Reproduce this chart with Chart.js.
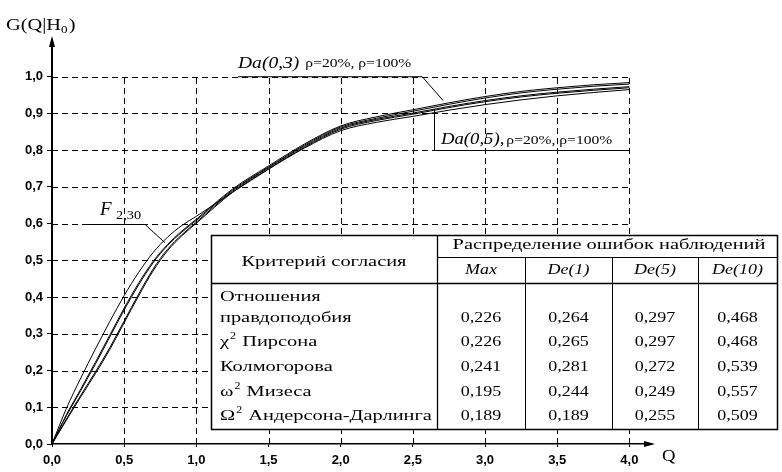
<!DOCTYPE html>
<html>
<head>
<meta charset="utf-8">
<script src="https://cdn.jsdelivr.net/npm/chart.js@4"></script>
<style>
  html, body { margin: 0; padding: 0; background: #fff; }
  canvas { display: block; }
</style>
</head>
<body>
<canvas id="chart" width="782" height="472"></canvas>
<script>
// Argument Q and the distribution curves G(Q|H0)
const qValues = [0, 0.1, 0.2, 0.3, 0.4, 0.5, 0.6, 0.7, 0.8, 0.9, 1.0, 1.25, 1.5, 1.75, 2.0, 2.25, 2.5, 2.75, 3.0, 3.25, 3.5, 3.75, 4.0];
const gF230       = [0, 0.097, 0.180, 0.258, 0.333, 0.404, 0.467, 0.521, 0.563, 0.595, 0.620, 0.685, 0.748, 0.806, 0.853, 0.876, 0.892, 0.909, 0.924, 0.937, 0.948, 0.957, 0.965];
const gDa03Rho20  = [0, 0.080, 0.150, 0.222, 0.296, 0.370, 0.438, 0.497, 0.543, 0.580, 0.612, 0.694, 0.757, 0.817, 0.866, 0.891, 0.910, 0.929, 0.946, 0.960, 0.970, 0.978, 0.984];
const gDa03Rho100 = [0, 0.077, 0.146, 0.217, 0.291, 0.365, 0.433, 0.493, 0.540, 0.577, 0.609, 0.691, 0.754, 0.814, 0.863, 0.887, 0.906, 0.925, 0.942, 0.956, 0.966, 0.974, 0.980];
const gDa05Rho20  = [0, 0.068, 0.133, 0.196, 0.262, 0.335, 0.408, 0.476, 0.530, 0.570, 0.604, 0.688, 0.752, 0.811, 0.860, 0.884, 0.901, 0.919, 0.935, 0.948, 0.958, 0.966, 0.973];
const gDa05Rho100 = [0, 0.065, 0.129, 0.191, 0.257, 0.330, 0.403, 0.471, 0.526, 0.567, 0.601, 0.685, 0.749, 0.808, 0.857, 0.881, 0.898, 0.916, 0.932, 0.945, 0.955, 0.963, 0.970];

// Axis ticks
const xTickValues = [0, 0.5, 1.0, 1.5, 2.0, 2.5, 3.0, 3.5, 4.0];
const xTickLabels = ['0,0', '0,5', '1,0', '1,5', '2,0', '2,5', '3,0', '3,5', '4,0'];
const yTickValues = [0, 0.1, 0.2, 0.3, 0.4, 0.5, 0.6, 0.7, 0.8, 0.9, 1.0];
const yTickLabels = ['0,0', '0,1', '0,2', '0,3', '0,4', '0,5', '0,6', '0,7', '0,8', '0,9', '1,0'];

// Table: goodness-of-fit criteria vs. observation error distributions
const criteriaLines = [
  ['Отношения'],
  ['правдоподобия'],
  ['χ', '2', ' Пирсона'],
  ['Колмогорова'],
  ['ω', '2', ' Мизеса'],
  ['Ω', '2', ' Андерсона-Дарлинга']
];
const errorDistributions = ['Max', 'De(1)', 'De(5)', 'De(10)'];
const statMax  = [0.226, 0.226, 0.241, 0.195, 0.189];
const statDe1  = [0.264, 0.265, 0.281, 0.244, 0.189];
const statDe5  = [0.297, 0.297, 0.272, 0.249, 0.255];
const statDe10 = [0.468, 0.468, 0.539, 0.557, 0.509];

const SERIF = '"Liberation Serif", "Times New Roman", serif';
const SANS = '"Liberation Sans", Arial, sans-serif';
const TABLE_SX = 1.36;

function series(label, values) {
  return {
    label,
    data: qValues.map((q, i) => ({ x: q, y: values[i] })),
    borderColor: '#000',
    borderWidth: 1,
    pointRadius: 0,
    fill: false,
    cubicInterpolationMode: 'monotone'
  };
}

function fmt(v) { return v.toFixed(3).replace('.', ','); }

// Dashed grid bounded by Q in [0, 4] and G in [0, 1]
const dashedGrid = {
  id: 'dashedGrid',
  beforeDatasetsDraw(chart) {
    const { ctx, scales: { x, y } } = chart;
    ctx.save();
    ctx.strokeStyle = '#000';
    ctx.lineWidth = 1;
    ctx.setLineDash([6, 4]);
    const x0 = x.getPixelForValue(0), x1 = x.getPixelForValue(4);
    const y0 = y.getPixelForValue(0), y1 = y.getPixelForValue(1);
    xTickValues.slice(1).forEach(v => {
      const px = Math.round(x.getPixelForValue(v)) + 0.5;
      ctx.beginPath(); ctx.moveTo(px, y0); ctx.lineTo(px, y1); ctx.stroke();
    });
    yTickValues.slice(1).forEach(v => {
      const py = Math.round(y.getPixelForValue(v)) + 0.5;
      ctx.beginPath(); ctx.moveTo(x0, py); ctx.lineTo(x1, py); ctx.stroke();
    });
    ctx.restore();
  }
};

// Text with optional horizontal stretch; returns drawn width
function text(ctx, str, px, py, font, align, sx) {
  sx = sx || 1;
  ctx.font = font;
  const w = ctx.measureText(str).width * sx;
  const left = align === 'center' ? px - w / 2 : align === 'right' ? px - w : px;
  ctx.save();
  ctx.translate(left, py);
  ctx.scale(sx, 1);
  ctx.textAlign = 'left';
  ctx.fillText(str, 0, 0);
  ctx.restore();
  return w;
}

function line(ctx, pts, w) {
  ctx.lineWidth = w || 1;
  ctx.beginPath();
  ctx.moveTo(pts[0][0], pts[0][1]);
  for (let i = 1; i < pts.length; i++) ctx.lineTo(pts[i][0], pts[i][1]);
  ctx.stroke();
}

const decorations = {
  id: 'decorations',
  afterDatasetsDraw(chart) {
    const { ctx, chartArea: ca, scales: { x, y } } = chart;
    ctx.save();
    ctx.fillStyle = '#000';
    ctx.strokeStyle = '#000';
    ctx.textBaseline = 'alphabetic';
    ctx.setLineDash([]);

    // axis arrows
    const ax = x.getPixelForValue(0), ay = y.getPixelForValue(0);
    ctx.beginPath();
    ctx.moveTo(ax, ca.top - 4); ctx.lineTo(ax - 3, ca.top + 7); ctx.lineTo(ax + 3, ca.top + 7); ctx.closePath(); ctx.fill();
    ctx.beginPath();
    ctx.moveTo(ca.right + 4, ay); ctx.lineTo(ca.right - 7, ay - 3); ctx.lineTo(ca.right - 7, ay + 3); ctx.closePath(); ctx.fill();

    // axis titles
    let w = text(ctx, 'G(Q|H', 6, 30, '17px ' + SERIF, 'left', 1.2);
    w += text(ctx, '0', 6 + w, 33, '11px ' + SERIF, 'left', 1.2);
    text(ctx, ')', 6 + w + 1, 30, '17px ' + SERIF, 'left', 1.2);
    text(ctx, 'Q', 662, 461, '17px ' + SERIF, 'left', 1.1);

    // Da(0,3) callout
    const u1 = y.getPixelForValue(1.0);
    line(ctx, [[x.getPixelForValue(1.29), u1], [x.getPixelForValue(2.565), u1], [x.getPixelForValue(2.71), y.getPixelForValue(0.935)]]);
    w = text(ctx, 'Da(0,3)', 238, 68, 'italic 17px ' + SERIF, 'left', 1.15);
    text(ctx, 'ρ=20%, ρ=100%', 238 + w + 6, 67, '12px ' + SERIF, 'left', 1.3);

    // Da(0,5) callout
    const vx = Math.round(x.getPixelForValue(2.648)) + 0.5;
    const hy = Math.round(y.getPixelForValue(0.801)) + 0.5;
    line(ctx, [[vx, y.getPixelForValue(0.912)], [vx, hy], [x.getPixelForValue(4.0), hy]]);
    w = text(ctx, 'Da(0,5),', 441, 144, 'italic 17px ' + SERIF, 'left', 1.1);
    text(ctx, 'ρ=20%, ρ=100%', 441 + w + 2, 144, '12px ' + SERIF, 'left', 1.3);

    // F2,30 callout
    const fy = Math.round(y.getPixelForValue(0.6)) + 0.5;
    line(ctx, [[x.getPixelForValue(0.25), fy], [x.getPixelForValue(0.645), fy], [x.getPixelForValue(0.783), y.getPixelForValue(0.548)]]);
    text(ctx, 'F', 100, 215, 'italic 19px ' + SERIF);
    text(ctx, '2,30', 116, 219, '13px ' + SERIF, 'left', 1.1);

    // table
    const L = 211, R = 777, T = 235, B = 429, C = 437, H1 = 257, H2 = 283;
    const cols = [C, 525, 612, 698, R];
    ctx.fillStyle = '#fff';
    ctx.fillRect(L, T, R - L, B - T);
    ctx.fillStyle = '#000';
    ctx.lineWidth = 1.5;
    ctx.strokeRect(L + 0.5, T + 0.5, R - L, B - T);
    line(ctx, [[L, H2 + 0.5], [R, H2 + 0.5]], 1.3);
    line(ctx, [[C + 0.5, T], [C + 0.5, B]], 1.3);
    line(ctx, [[C, H1 + 0.5], [R, H1 + 0.5]]);
    for (let i = 1; i < 4; i++) line(ctx, [[cols[i] + 0.5, H1], [cols[i] + 0.5, B]]);

    ctx.textBaseline = 'middle';
    const F15 = '15px ' + SERIF;
    text(ctx, 'Критерий согласия', (L + C) / 2, 262, F15, 'center', TABLE_SX);
    text(ctx, 'Распределение ошибок наблюдений', (C + R) / 2 + 2, 245, F15, 'center', TABLE_SX);
    errorDistributions.forEach((h, i) => {
      text(ctx, h, (cols[i] + cols[i + 1]) / 2, 270, 'italic ' + F15, 'center', 1.2);
    });

    const rowY = [297, 318, 342, 367, 392, 416];
    criteriaLines.forEach((parts, i) => {
      let px = 220;
      px += text(ctx, parts[0], px, rowY[i], F15, 'left', TABLE_SX);
      if (parts.length === 3) {
        px += text(ctx, parts[1], px + 1, rowY[i] - 6, '10px ' + SERIF, 'left', 1.2) + 2;
        text(ctx, parts[2], px, rowY[i], F15, 'left', TABLE_SX);
      }
    });
    [statMax, statDe1, statDe5, statDe10].forEach((colVals, c) => {
      colVals.forEach((v, r) => {
        text(ctx, fmt(v), (cols[c] + cols[c + 1]) / 2, rowY[r + 1], F15, 'center', 1.2);
      });
    });
    ctx.restore();
  }
};

new Chart(document.getElementById('chart').getContext('2d'), {
  type: 'line',
  data: {
    datasets: [
      series('F 2,30', gF230),
      series('Da(0,3), ρ=20%', gDa03Rho20),
      series('Da(0,3), ρ=100%', gDa03Rho100),
      series('Da(0,5), ρ=20%', gDa05Rho20),
      series('Da(0,5), ρ=100%', gDa05Rho100)
    ]
  },
  options: {
    responsive: false,
    animation: false,
    devicePixelRatio: 1,
    layout: { padding: { top: 40, right: 131, left: 0, bottom: 0 } },
    plugins: { legend: { display: false }, tooltip: { enabled: false } },
    scales: {
      x: {
        type: 'linear', min: 0, max: 4.15,
        afterBuildTicks: s => { s.ticks = xTickValues.map(v => ({ value: v })); },
        afterFit: s => { s.height = 28; },
        ticks: {
          callback: (v, i) => xTickLabels[i],
          font: { family: SANS, size: 13, weight: 'bold' },
          color: '#000', padding: 6, maxRotation: 0, autoSkip: false
        },
        grid: { drawOnChartArea: false, drawTicks: true, tickLength: 3, color: '#000' },
        border: { color: '#000', width: 1.5 }
      },
      y: {
        min: 0, max: 1.1,
        afterBuildTicks: s => { s.ticks = yTickValues.map(v => ({ value: v })); },
        afterFit: s => { s.width = 52; },
        ticks: {
          callback: (v, i) => yTickLabels[i],
          font: { family: SANS, size: 13, weight: 'bold' },
          color: '#000', padding: 4, autoSkip: false
        },
        grid: { drawOnChartArea: false, drawTicks: true, tickLength: 5, color: '#000' },
        border: { color: '#000', width: 2 }
      }
    }
  },
  plugins: [dashedGrid, decorations]
});
</script>
</body>
</html>
